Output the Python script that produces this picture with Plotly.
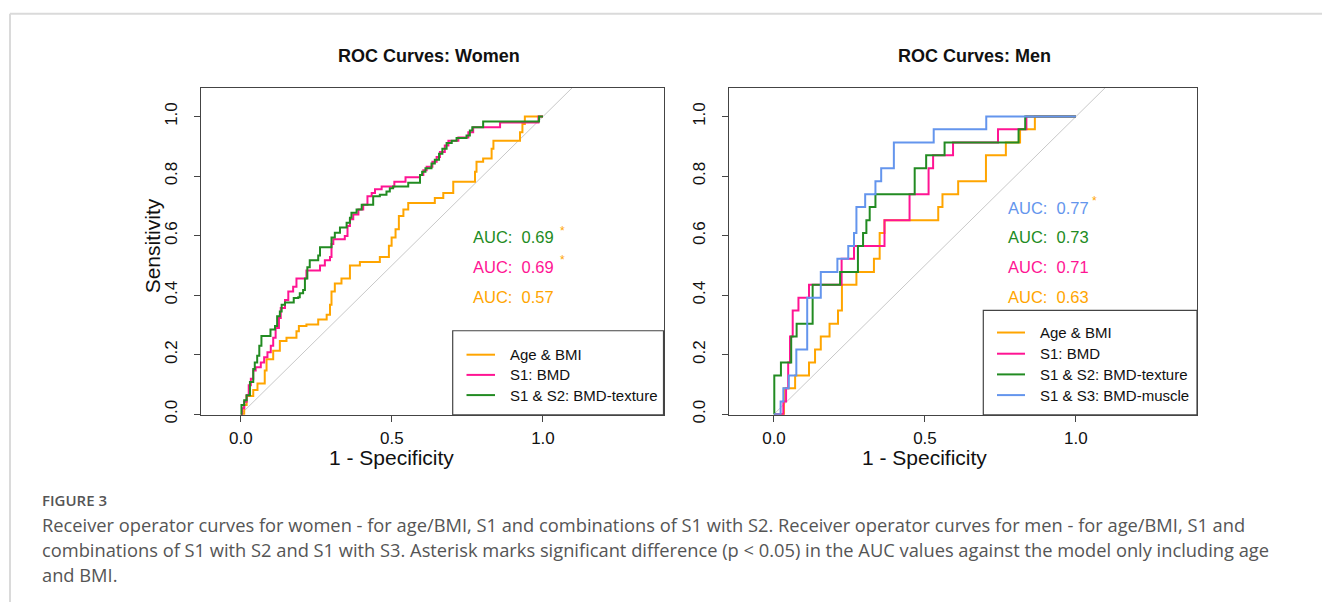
import plotly.graph_objects as go

# ---------------- data ----------------
panel_titles = ["ROC Curves: Women", "ROC Curves: Men"]
series_names = ["Age & BMI", "S1: BMD", "S1 & S2: BMD-texture", "S1 & S3: BMD-muscle"]
series_colors = ["#FFA500", "#FF1493", "#228B22", "#6495ED"]

# Women (1 - specificity, sensitivity) step knots
w_age_fpr = [0, 0.011, 0.019, 0.041, 0.055, 0.079, 0.085, 0.107, 0.129, 0.151, 0.184, 0.192, 0.217, 0.256,
             0.284, 0.295, 0.300, 0.311, 0.333, 0.361, 0.394, 0.460, 0.490, 0.499, 0.512, 0.523, 0.538, 0.554,
             0.642, 0.670, 0.703, 0.775, 0.780, 0.802, 0.830, 0.836, 0.924, 0.932, 0.940, 1.0]
w_age_tpr = [0, 0.031, 0.061, 0.081, 0.103, 0.147, 0.185, 0.213, 0.246, 0.257, 0.279, 0.296, 0.301, 0.318,
             0.334, 0.368, 0.412, 0.439, 0.456, 0.500, 0.511, 0.528, 0.566, 0.594, 0.621, 0.666, 0.688, 0.710,
             0.726, 0.743, 0.781, 0.815, 0.848, 0.859, 0.892, 0.919, 0.947, 0.975, 1.0, 1.0]
w_s1_fpr = [0, 0.004, 0.011, 0.019, 0.026, 0.033, 0.041, 0.049, 0.066, 0.077, 0.088, 0.099, 0.107, 0.115,
            0.126, 0.132, 0.146, 0.157, 0.173, 0.184, 0.217, 0.262, 0.278, 0.295, 0.300, 0.306, 0.344, 0.353,
            0.361, 0.372, 0.389, 0.405, 0.419, 0.433, 0.444, 0.466, 0.508, 0.545, 0.593, 0.604, 0.615, 0.634,
            0.648, 0.659, 0.675, 0.687, 0.720, 0.753, 0.769, 0.858, 0.985, 1.0]
w_s1_tpr = [0, 0.020, 0.042, 0.064, 0.097, 0.119, 0.147, 0.158, 0.174, 0.191, 0.208, 0.230, 0.257, 0.290,
            0.323, 0.357, 0.384, 0.412, 0.428, 0.456, 0.483, 0.500, 0.517, 0.528, 0.572, 0.588, 0.599, 0.632,
            0.655, 0.671, 0.688, 0.704, 0.732, 0.743, 0.756, 0.765, 0.781, 0.796, 0.804, 0.820, 0.831, 0.848,
            0.864, 0.881, 0.903, 0.919, 0.930, 0.947, 0.964, 0.980, 1.0, 1.0]
w_s12_fpr = [0, 0.002, 0.011, 0.019, 0.030, 0.041, 0.046, 0.054, 0.061, 0.068, 0.098, 0.113, 0.120, 0.129,
             0.135, 0.146, 0.175, 0.190, 0.195, 0.206, 0.212, 0.220, 0.228, 0.256, 0.262, 0.300, 0.311, 0.328,
             0.350, 0.361, 0.366, 0.383, 0.400, 0.438, 0.460, 0.482, 0.493, 0.504, 0.554, 0.593, 0.600, 0.611,
             0.631, 0.642, 0.656, 0.667, 0.681, 0.698, 0.714, 0.747, 0.758, 0.766, 0.802, 0.987, 1.0]
w_s12_tpr = [0, 0.031, 0.047, 0.064, 0.108, 0.152, 0.174, 0.196, 0.230, 0.263, 0.285, 0.296, 0.329, 0.345,
             0.368, 0.375, 0.390, 0.393, 0.406, 0.417, 0.456, 0.494, 0.517, 0.533, 0.561, 0.594, 0.610, 0.627,
             0.643, 0.660, 0.677, 0.688, 0.704, 0.732, 0.737, 0.748, 0.759, 0.765, 0.778, 0.804, 0.815, 0.826,
             0.842, 0.855, 0.875, 0.892, 0.911, 0.919, 0.928, 0.936, 0.953, 0.964, 0.983, 1.0, 1.0]

# Men
m_age_fpr = [0, 0.033, 0.070, 0.116, 0.136, 0.155, 0.184, 0.212, 0.225, 0.273, 0.331, 0.350, 0.366, 0.544,
             0.558, 0.610, 0.702, 0.768, 0.815, 0.864, 1.0]
m_age_tpr = [0, 0.087, 0.130, 0.174, 0.217, 0.261, 0.304, 0.348, 0.435, 0.478, 0.522, 0.609, 0.652, 0.696,
             0.739, 0.783, 0.870, 0.913, 0.957, 1.0, 1.0]
m_s1_fpr = [0, 0.031, 0.040, 0.047, 0.053, 0.062, 0.081, 0.116, 0.224, 0.265, 0.366, 0.449, 0.512, 0.527,
            0.593, 0.742, 0.836, 1.0]
m_s1_tpr = [0, 0.043, 0.087, 0.174, 0.261, 0.348, 0.391, 0.435, 0.522, 0.565, 0.652, 0.739, 0.826, 0.870,
            0.913, 0.957, 1.0, 1.0]
m_s12_fpr = [0, 0.001, 0.023, 0.057, 0.075, 0.128, 0.219, 0.278, 0.295, 0.306, 0.317, 0.336, 0.466, 0.504,
             0.565, 0.810, 0.832, 1.0]
m_s12_tpr = [0, 0.130, 0.174, 0.261, 0.304, 0.435, 0.478, 0.565, 0.609, 0.652, 0.696, 0.739, 0.826, 0.870,
             0.913, 0.957, 1.0, 1.0]
m_s13_fpr = [0, 0.022, 0.031, 0.049, 0.074, 0.110, 0.155, 0.210, 0.246, 0.265, 0.273, 0.302, 0.336, 0.355,
             0.397, 0.529, 0.703, 1.0]
m_s13_tpr = [0, 0.043, 0.087, 0.130, 0.217, 0.391, 0.478, 0.522, 0.565, 0.609, 0.696, 0.739, 0.783, 0.826,
             0.913, 0.957, 1.0, 1.0]

women_auc = [0.57, 0.69, 0.69]
women_sig = [False, True, True]
men_auc = [0.63, 0.71, 0.73, 0.77]
men_sig = [False, False, False, True]

x_ticks = [0.0, 0.5, 1.0]
y_ticks = [0.0, 0.2, 0.4, 0.6, 0.8, 1.0]

caption_head = "FIGURE 3"
caption_lines = [
    "Receiver operator curves for women - for age/BMI, S1 and combinations of S1 with S2. Receiver operator curves for men - for age/BMI, S1 and",
    "combinations of S1 with S2 and S1 with S3. Asterisk marks significant difference (p < 0.05) in the AUC values against the model only including age",
    "and BMI.",
]

# ---------------- layout helpers ----------------
W, H = 1322, 611
FONT = "Liberation Sans, Arial, sans-serif"


def px(x):
    return x / W


def py(y):
    return 1 - y / H


fig = go.Figure()

women = [(w_age_fpr, w_age_tpr), (w_s1_fpr, w_s1_tpr), (w_s12_fpr, w_s12_tpr)]
men = [(m_age_fpr, m_age_tpr), (m_s1_fpr, m_s1_tpr), (m_s12_fpr, m_s12_tpr), (m_s13_fpr, m_s13_tpr)]

for i, (xa, ya) in enumerate([("x", "y"), ("x2", "y2")]):
    fig.add_trace(go.Scatter(x=[-0.5, 1.6], y=[-0.5, 1.6], mode="lines",
                             line=dict(color="#c8c8c8", width=1), xaxis=xa, yaxis=ya,
                             showlegend=False, hoverinfo="skip"))

for k, (f, t) in enumerate(women):
    fig.add_trace(go.Scatter(x=f, y=t, mode="lines", line=dict(color=series_colors[k], width=2, shape="hv"),
                             name=series_names[k], xaxis="x", yaxis="y", showlegend=False))
for k, (f, t) in enumerate(men):
    fig.add_trace(go.Scatter(x=f, y=t, mode="lines", line=dict(color=series_colors[k], width=2, shape="hv"),
                             name=series_names[k], xaxis="x2", yaxis="y2", showlegend=False))

axis_common = dict(showgrid=False, zeroline=False, showline=True, mirror=True, linecolor="#444",
                   linewidth=1.2, ticks="outside", ticklen=6, tickcolor="#444", tickwidth=1.2,
                   tickfont=dict(family=FONT, size=17, color="#111"), tickformat=".1f")

fig.update_layout(
    width=W, height=H, autosize=False,
    margin=dict(l=0, r=0, t=0, b=0),
    paper_bgcolor="white", plot_bgcolor="white",
    xaxis=dict(domain=[px(201), px(663.5)], range=[-0.132, 1.399], tickvals=x_ticks,
               ticklabelstandoff=2, anchor="y", **axis_common),
    yaxis=dict(domain=[py(421), py(89)], range=[-0.002, 1.097], tickvals=y_ticks, tickangle=-90,
               ticklabelstandoff=10, anchor="x", **axis_common),
    xaxis2=dict(domain=[px(729), px(1197)], range=[-0.149, 1.401], tickvals=x_ticks,
                ticklabelstandoff=2, anchor="y2", **axis_common),
    yaxis2=dict(domain=[py(421), py(89)], range=[-0.002, 1.097], tickvals=y_ticks, tickangle=-90,
                ticklabelstandoff=10, anchor="x2", **axis_common),
)

ann = []
shapes = []

# frame of the figure card
shapes.append(dict(type="line", xref="paper", yref="paper", x0=px(10), x1=1, y0=py(14), y1=py(14),
                   line=dict(color="#dadada", width=2)))
shapes.append(dict(type="line", xref="paper", yref="paper", x0=px(10), x1=px(10), y0=py(14), y1=0,
                   line=dict(color="#dadada", width=2)))

# titles
for title, cx in zip(panel_titles, [429, 974]):
    ann.append(dict(text="<b>%s</b>" % title, x=px(cx), y=py(57), xref="paper", yref="paper",
                    xanchor="center", yanchor="middle", showarrow=False,
                    font=dict(family=FONT, size=18, color="#111")))

# axis labels
for xr in ["x", "x2"]:
    ann.append(dict(text="1 - Specificity", x=0.5, y=py(464), xref=xr, yref="paper",
                    xanchor="center", yanchor="middle", showarrow=False,
                    font=dict(family=FONT, size=21, color="#111")))
ann.append(dict(text="Sensitivity", x=px(152), y=py(250), xref="paper", yref="paper", textangle=-90,
                xanchor="center", yanchor="middle", showarrow=False,
                font=dict(family=FONT, size=21, color="#111")))

# AUC labels
def auc_block(aucs, sigs, x0, ys, ast_x):
    for k, (a, s) in enumerate(zip(aucs, sigs)):
        ann.append(dict(text="AUC:\u00a0 %.2f" % a, x=px(x0), y=py(ys[k]), xref="paper", yref="paper",
                        xanchor="left", yanchor="middle", showarrow=False,
                        font=dict(family=FONT, size=16.5, color=series_colors[k])))
        if s:
            ann.append(dict(text="*", x=px(ast_x), y=py(ys[k] - 7), xref="paper", yref="paper",
                            xanchor="center", yanchor="middle", showarrow=False,
                            font=dict(family=FONT, size=12, color=series_colors[0])))

auc_block(women_auc, women_sig, 471, [301, 271, 241], 562)
auc_block(men_auc, men_sig, 1006, [301, 271, 241, 211], 1094)

# legends
def legend_block(names, box, line_x, text_x, ys):
    x0, y0, x1, y1 = box
    shapes.append(dict(type="rect", xref="paper", yref="paper", x0=px(x0), x1=px(x1), y0=py(y1), y1=py(y0),
                       line=dict(color="#444", width=1.2), fillcolor="white", layer="above"))
    for k, nm in enumerate(names):
        shapes.append(dict(type="line", xref="paper", yref="paper", x0=px(line_x[0]), x1=px(line_x[1]),
                           y0=py(ys[k]), y1=py(ys[k]), line=dict(color=series_colors[k], width=2),
                           layer="above"))
        ann.append(dict(text=nm, x=px(text_x), y=py(ys[k]), xref="paper", yref="paper",
                        xanchor="left", yanchor="middle", showarrow=False,
                        font=dict(family=FONT, size=15, color="#111")))

legend_block(series_names[:3], (452.7, 335.7, 663.5, 421), (466.5, 495), 508, [360, 380.5, 401])
legend_block(series_names, (983.3, 315, 1197, 421), (997, 1025), 1038, [337.5, 359, 380, 401])

# caption
ann.append(dict(text=caption_head, x=px(40), y=py(507), xref="paper", yref="paper", xanchor="left",
                yanchor="middle", showarrow=False,
                font=dict(family="Open Sans, sans-serif", size=15, color="#555", weight=600)))
for k, line in enumerate(caption_lines):
    ann.append(dict(text=line, x=px(40), y=py(532 + 25.5 * k), xref="paper", yref="paper",
                    xanchor="left", yanchor="middle", showarrow=False,
                    font=dict(family="Open Sans, sans-serif", size=18.3, color="#555")))

fig.update_layout(annotations=ann, shapes=shapes)

fig.write_html("out.html", config={"displayModeBar": False},
               post_script="document.body.style.margin='0';document.body.style.overflow='hidden';")
